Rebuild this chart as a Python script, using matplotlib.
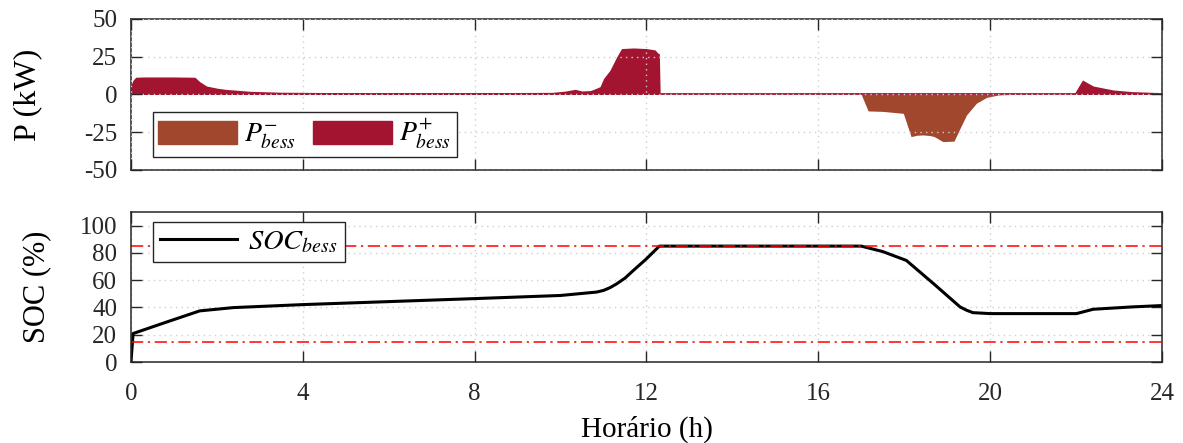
import numpy as np
import matplotlib
matplotlib.use("Agg")
import matplotlib.pyplot as plt
from matplotlib.patches import Patch

plt.rcParams['font.family'] = ['Liberation Serif', 'DejaVu Serif']
plt.rcParams['mathtext.fontset'] = 'stix'

# P+ (charging power, kW)
t_pos = [0.0, 0.05, 0.11, 0.3, 1.0, 1.49, 1.6, 1.76, 2.0, 2.2, 2.77, 3.5, 5.0, 8.0, 9.8,
         10.1, 10.34, 10.5, 10.7, 10.84, 10.92, 11.0, 11.15, 11.31, 11.42, 11.7, 12.0,
         12.2, 12.27, 12.3, 12.32, 21.95, 22.0, 22.15, 22.4, 22.86, 23.3, 24.0]
p_pos = [6.3, 9.5, 11.4, 11.6, 11.6, 11.4, 8.5, 5.6, 4.2, 3.4, 2.1, 1.5, 1.2, 1.2, 1.4,
         2.2, 3.4, 2.3, 2.6, 4.2, 5.2, 10.5, 16.0, 25.0, 30.4, 30.8, 30.4,
         29.5, 27.3, 27.0, 0.0, 0.0, 2.5, 9.6, 5.6, 3.0, 1.9, 1.2]

# P- (discharging power, kW)
t_neg = [16.9, 17.0, 17.16, 17.5, 17.98, 18.16, 18.3, 18.44, 18.6, 18.7, 18.9, 19.16,
         19.3, 19.45, 19.68, 19.92, 20.2, 20.5]
p_neg = [0.0, 0.0, -10.9, -11.2, -12.5, -27.9, -27.0, -26.8, -27.2, -27.9, -31.2, -30.9,
         -22.4, -13.6, -5.8, -1.9, -0.3, 0.0]

# SOC (%)
t_soc = [0.0, 0.05, 0.8, 1.6, 2.38, 4.0, 6.0, 8.0, 10.0, 10.84, 11.0, 11.15, 11.3, 11.5,
         11.69, 12.0, 12.3, 17.0, 17.5, 18.05, 18.7, 19.3, 19.45, 19.6, 20.0, 22.01,
         22.4, 23.3, 24.0]
soc = [0.0, 20.9, 29.0, 37.5, 39.9, 42.1, 44.3, 46.5, 48.8, 51.3, 52.5, 54.5, 57.2, 61.5,
       67.0, 75.7, 85.0, 85.0, 81.0, 74.5, 57.0, 40.4, 38.0, 36.2, 35.5, 35.5,
       38.7, 40.4, 41.4]

soc_max = 85
soc_min = 15

c_pos = '#A2142F'
c_neg = '#A0472E'
grid_c = '#cfcfcf'
dashdot = (0, (8, 3, 1.5, 3))

fig = plt.figure(figsize=(11.83, 4.43), dpi=100)
ax1 = fig.add_axes([0.1107, 0.6163, 0.8715, 0.3409])
ax2 = fig.add_axes([0.1107, 0.1828, 0.8715, 0.3386])

# top: power
ax1.fill_between(t_neg, p_neg, 0, color=c_neg, lw=0)
ax1.fill_between(t_pos, p_pos, 0, color=c_pos, lw=0)
ax1.axhline(0, color=c_pos, lw=1.3)
ax1.set_xlim(0, 24)
ax1.set_ylim(-50, 50)
ax1.set_yticks([-50, -25, 0, 25, 50])
ax1.set_yticklabels(['-50', '-25', '0', '25', '50'])
ax1.set_xticks(range(0, 25, 4))
ax1.set_xticklabels([])
ax1.set_axisbelow(False)
ax1.grid(True, ls=(0, (1, 3)), color=grid_c, lw=1)
ax1.set_ylabel('P (kW)', fontsize=23)
ax1.yaxis.set_label_coords(-0.086, 0.5)
leg1 = ax1.legend([Patch(color=c_neg), Patch(color=c_pos)],
                  [r'$P_{bess}^{-}$', r'$P_{bess}^{+}$'],
                  ncol=2, loc='lower left', bbox_to_anchor=(0.021, 0.086),
                  fontsize=20, handlelength=2.85, handleheight=0.85, fancybox=False,
                  edgecolor='#262626', framealpha=1, borderpad=0.2, columnspacing=0.6,
                  handletextpad=0.25, borderaxespad=0)
leg1.get_frame().set_linewidth(1.0)

# bottom: SOC
ax2.plot(t_soc, soc, color='black', lw=2.2, label=r'$SOC_{bess}$')
ax2.axhline(soc_max, color='#ff0000', lw=1.1, ls=dashdot)
ax2.axhline(soc_min, color='#ff0000', lw=1.1, ls=dashdot)
ax2.set_xlim(0, 24)
ax2.set_ylim(0, 110)
ax2.set_yticks(range(0, 101, 20))
ax2.set_xticks(range(0, 25, 4))
ax2.grid(True, ls=(0, (1, 3)), color=grid_c, lw=1)
ax2.set_axisbelow(True)
ax2.set_ylabel('SOC (%)', fontsize=22)
ax2.yaxis.set_label_coords(-0.077, 0.5)
ax2.set_xlabel('Horário (h)', fontsize=21, labelpad=8)
leg2 = ax2.legend(loc='upper left', bbox_to_anchor=(0.021, 0.933), fontsize=20.5,
                  handlelength=2.7, fancybox=False, edgecolor='#262626', framealpha=1,
                  borderpad=0.25, handletextpad=0.4, borderaxespad=0)
leg2.get_frame().set_linewidth(1.0)

for ax in (ax1, ax2):
    ax.tick_params(direction='in', length=8, width=1, labelsize=18, colors='#262626',
                   top=True, right=True)
    ax.tick_params(axis='y', pad=10)
    ax.tick_params(axis='x', pad=15)
    for s in ax.spines.values():
        s.set_color('#262626')
        s.set_linewidth(1.1)

fig.savefig('out.png', dpi=100)
